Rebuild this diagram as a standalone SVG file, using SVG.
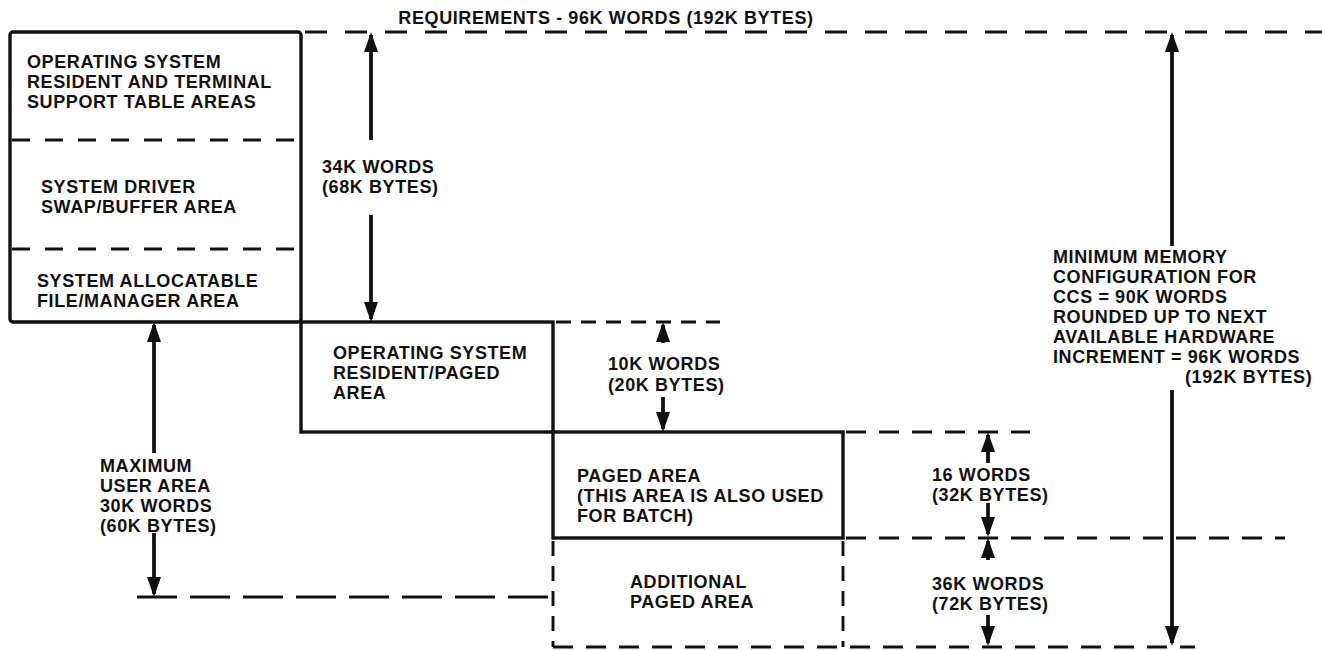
<svg xmlns="http://www.w3.org/2000/svg" width="1322" height="650" viewBox="0 0 1322 650">
<style>
text{font-family:"Liberation Sans",Arial,Helvetica,sans-serif;font-weight:bold;font-size:18px;letter-spacing:0.6px;fill:#111}
.box{fill:none;stroke:#111;stroke-width:3.4}
.dash{fill:none;stroke:#111;stroke-width:2.9}
.arr{stroke:#111;stroke-width:3.8;marker-end:url(#ah)}
</style>
<defs>
<marker id="ah" viewBox="0 0 20 14" refX="17" refY="7" markerWidth="20" markerHeight="14" markerUnits="userSpaceOnUse" orient="auto">
<path d="M0,0 L20,7 L0,14 Z" fill="#111"/>
</marker>
</defs>
<rect width="1322" height="650" fill="#fff"/>
<text x="606" y="24" text-anchor="middle">REQUIREMENTS - 96K WORDS (192K BYTES)</text>

<g id="os-resident-area">
<rect class="box" x="10" y="32" width="291" height="290" rx="3"/>
<path class="dash" d="M12,140 H300 M12,249 H300" stroke-dasharray="18 15"/>
<text x="27" y="68">OPERATING SYSTEM</text>
<text x="27" y="88">RESIDENT AND TERMINAL</text>
<text x="27" y="108">SUPPORT TABLE AREAS</text>
<text x="41" y="193">SYSTEM DRIVER</text>
<text x="41" y="213">SWAP/BUFFER AREA</text>
<text x="37" y="287">SYSTEM ALLOCATABLE</text>
<text x="37" y="307">FILE/MANAGER AREA</text>
</g>

<g id="os-resident-paged">
<rect class="box" x="301" y="322" width="252" height="110"/>
<text x="333" y="359">OPERATING SYSTEM</text>
<text x="333" y="379">RESIDENT/PAGED</text>
<text x="333" y="399">AREA</text>
</g>

<g id="paged-area">
<rect class="box" x="553" y="432" width="290" height="106"/>
<text x="577" y="482">PAGED AREA</text>
<text x="577" y="502">(THIS AREA IS ALSO USED</text>
<text x="577" y="522">FOR BATCH)</text>
</g>

<g id="additional-paged-area">
<path class="dash" d="M553,541 V647 M843,541 V647" stroke-dasharray="15 10"/>
<path class="dash" d="M553,647 H1195" stroke-dasharray="20 13"/>
<text x="630" y="588">ADDITIONAL</text>
<text x="630" y="608">PAGED AREA</text>
</g>

<g id="connectors">
<path class="dash" d="M305,32 H1322" stroke-dasharray="22 18"/>
<path class="dash" d="M556,322 H720" stroke-dasharray="15 10"/>
<path class="dash" d="M846,432 H1030" stroke-dasharray="20 13"/>
<path class="dash" d="M846,538 H1285" stroke-dasharray="20 13"/>
<path class="dash" d="M137,597 H551" stroke-dasharray="40 13"/>

<line class="arr" x1="371" y1="140" x2="371" y2="35"/>
<line class="arr" x1="371" y1="215" x2="371" y2="319"/>
<line class="arr" x1="154" y1="453" x2="154" y2="325"/>
<line class="arr" x1="154" y1="533" x2="154" y2="594"/>
<line class="arr" x1="663" y1="343" x2="663" y2="325"/>
<line class="arr" x1="663" y1="397" x2="663" y2="429"/>
<line class="arr" x1="988" y1="463" x2="988" y2="435"/>
<line class="arr" x1="988" y1="503" x2="988" y2="534"/>
<line class="arr" x1="988" y1="560" x2="988" y2="541"/>
<line class="arr" x1="988" y1="615" x2="988" y2="643"/>
<line class="arr" x1="1172" y1="246" x2="1172" y2="35"/>
<line class="arr" x1="1172" y1="390" x2="1172" y2="643"/>
</g>

<g id="labels">
<text x="322" y="173">34K WORDS</text>
<text x="322" y="193">(68K BYTES)</text>
<text x="608" y="370">10K WORDS</text>
<text x="608" y="391">(20K BYTES)</text>
<text x="932" y="481">16 WORDS</text>
<text x="932" y="501">(32K BYTES)</text>
<text x="932" y="590">36K WORDS</text>
<text x="932" y="610">(72K BYTES)</text>
<text x="100" y="472">MAXIMUM</text>
<text x="100" y="492">USER AREA</text>
<text x="100" y="512">30K WORDS</text>
<text x="100" y="532">(60K BYTES)</text>
<text x="1053" y="263">MINIMUM MEMORY</text>
<text x="1053" y="283">CONFIGURATION FOR</text>
<text x="1053" y="303">CCS = 90K WORDS</text>
<text x="1053" y="323">ROUNDED UP TO NEXT</text>
<text x="1053" y="343">AVAILABLE HARDWARE</text>
<text x="1053" y="363">INCREMENT = 96K WORDS</text>
<text x="1185" y="383">(192K BYTES)</text>
</g>
</svg>
